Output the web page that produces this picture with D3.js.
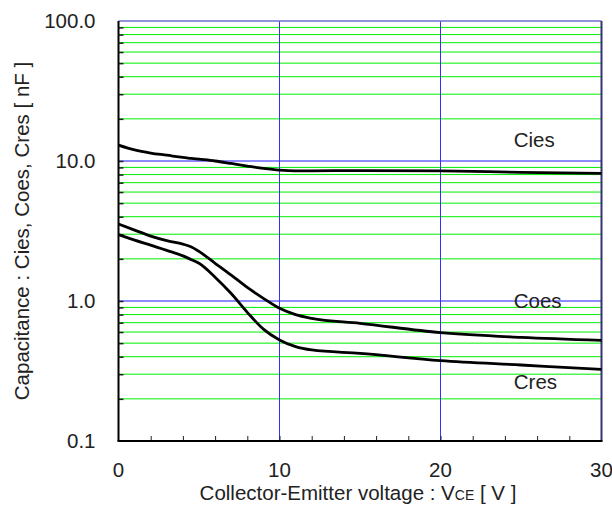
<!DOCTYPE html>
<html>
<head>
<meta charset="utf-8">
<script src="https://cdn.jsdelivr.net/npm/d3@7"></script>
<style>
  body { margin: 0; background: #fff; }
  text { font-family: "Liberation Sans", Arial, sans-serif; fill: #222; }
</style>
</head>
<body>
<div id="chart-container"></div>
<script>
// Data
const voltage = [0, 1, 2, 3, 4, 4.5, 5, 6, 7, 8, 9, 10, 11, 12, 15, 20, 25, 30];
const cies = [13.0, 12.0, 11.4, 11.0, 10.6, 10.45, 10.3, 10.0, 9.6, 9.2, 8.85, 8.6, 8.5, 8.5, 8.55, 8.5, 8.3, 8.15];
const coes = [3.55, 3.21, 2.91, 2.70, 2.55, 2.44, 2.26, 1.86, 1.53, 1.25, 1.045, 0.887, 0.80, 0.752, 0.693, 0.594, 0.55, 0.524];
const cres = [2.98, 2.72, 2.51, 2.3, 2.10, 1.98, 1.86, 1.48, 1.13, 0.83, 0.63, 0.527, 0.472, 0.447, 0.423, 0.375, 0.349, 0.325];
const seriesNames = ["Cies", "Coes", "Cres"];
const xTickLabels = [0, 10, 20, 30];
const yTickLabels = [0.1, 1, 10, 100];

// Set dimensions and margins for the chart
const margin = { top: 21, right: 10.5, bottom: 70, left: 118.5 };
const width = 612 - margin.left - margin.right;
const height = 511 - margin.top - margin.bottom;

const x = d3.scaleLinear().domain([0, 30]).range([0, width]);
const y = d3.scaleLog().domain([0.1, 100]).range([height, 0]);

const svg = d3.select("#chart-container")
  .append("svg")
  .attr("width", 612)
  .attr("height", 511)
  .append("g")
  .attr("transform", `translate(${margin.left},${margin.top})`);

// minor log gridlines (2..9 in each decade)
const minor = [];
[0.1, 1, 10].forEach(d => { for (let k = 2; k <= 9; k++) minor.push(+(d * k).toPrecision(3)); });

svg.selectAll(".minorGrid")
  .data(minor)
  .join("line")
  .attr("x1", 0)
  .attr("x2", width)
  .attr("y1", d => y(d))
  .attr("y2", d => y(d))
  .attr("stroke", "#00ee00")
  .attr("stroke-width", 1);

// decade gridlines
svg.selectAll(".majorGrid")
  .data([1, 10])
  .join("line")
  .attr("x1", 0)
  .attr("x2", width)
  .attr("y1", d => y(d))
  .attr("y2", d => y(d))
  .attr("stroke", "#1a1aff")
  .attr("stroke-width", 1);

// vertical gridlines
svg.selectAll(".xGrid")
  .data([10, 20])
  .join("line")
  .attr("x1", d => x(d))
  .attr("x2", d => x(d))
  .attr("y1", 0)
  .attr("y2", height)
  .attr("stroke", "#3030ff")
  .attr("stroke-width", 1);

// top border
svg.append("line")
  .attr("x1", 0).attr("x2", width)
  .attr("y1", 0).attr("y2", 0)
  .attr("stroke", "#7070d0")
  .attr("stroke-width", 1.5);

// right border
svg.append("line")
  .attr("x1", width).attr("x2", width)
  .attr("y1", 0).attr("y2", height)
  .attr("stroke", "#333370")
  .attr("stroke-width", 2);

// Add the y-axis (ticks inside)
svg.append("g")
  .call(d3.axisRight(y)
    .tickValues(minor.concat([1, 10]))
    .tickSize(5)
    .tickFormat(""))
  .call(g => g.select(".domain").remove())
  .selectAll(".tick line")
  .attr("stroke", "#222")
  .attr("stroke-width", 1.5);

svg.append("line")
  .attr("x1", 0).attr("x2", 0)
  .attr("y1", 0).attr("y2", height)
  .attr("stroke", "#000")
  .attr("stroke-width", 2);

// Add the x-axis (ticks inside)
svg.append("g")
  .attr("transform", `translate(0,${height})`)
  .call(d3.axisTop(x)
    .tickValues(d3.range(2, 30, 2))
    .tickSize(5)
    .tickFormat(""))
  .call(g => g.select(".domain").remove())
  .selectAll(".tick line")
  .attr("stroke", "#222")
  .attr("stroke-width", 1);

svg.append("line")
  .attr("x1", -1).attr("x2", width + 1)
  .attr("y1", height).attr("y2", height)
  .attr("stroke", "#000")
  .attr("stroke-width", 2);

// tick labels
svg.selectAll(".yLabel")
  .data(yTickLabels)
  .join("text")
  .attr("x", -23)
  .attr("y", d => y(d))
  .attr("dy", "0.35em")
  .attr("text-anchor", "end")
  .style("font-size", "20.5px")
  .text(d => d3.format(".1f")(d));

svg.selectAll(".xLabel")
  .data(xTickLabels)
  .join("text")
  .attr("x", d => x(d))
  .attr("y", height + 36)
  .attr("text-anchor", "middle")
  .style("font-size", "20.5px")
  .text(d => d);

// the three curves
const line = d3.line()
  .x((d, i) => x(voltage[i]))
  .y(d => y(d))
  .curve(d3.curveMonotoneX);

svg.selectAll(".curve")
  .data([cies, coes, cres])
  .join("path")
  .attr("fill", "none")
  .attr("stroke", "#000")
  .attr("stroke-width", 2.8)
  .attr("d", line);

// curve labels (baseline positions in data units)
const labelPos = [[24.55, 12.6], [24.55, 0.887], [24.55, 0.234]];
svg.selectAll(".seriesLabel")
  .data(seriesNames)
  .join("text")
  .attr("x", (d, i) => x(labelPos[i][0]))
  .attr("y", (d, i) => y(labelPos[i][1]))
  .attr("text-anchor", "start")
  .style("font-size", "20.5px")
  .text(d => d);

// Add X-axis label
const xt = svg.append("text")
  .attr("x", width / 2 - 2)
  .attr("y", height + 59)
  .attr("text-anchor", "middle")
  .style("font-size", "20.5px");
xt.append("tspan").text("Collector-Emitter voltage : V");
xt.append("tspan").style("font-size", "14px").text("CE");
xt.append("tspan").text(" [ V ]");

// Add Y-axis label
svg.append("text")
  .attr("transform", "rotate(-90)")
  .attr("x", -height / 2)
  .attr("y", -margin.left + 29)
  .attr("text-anchor", "middle")
  .style("font-size", "20.5px")
  .text("Capacitance : Cies, Coes, Cres [ nF ]");
</script>
</body>
</html>
